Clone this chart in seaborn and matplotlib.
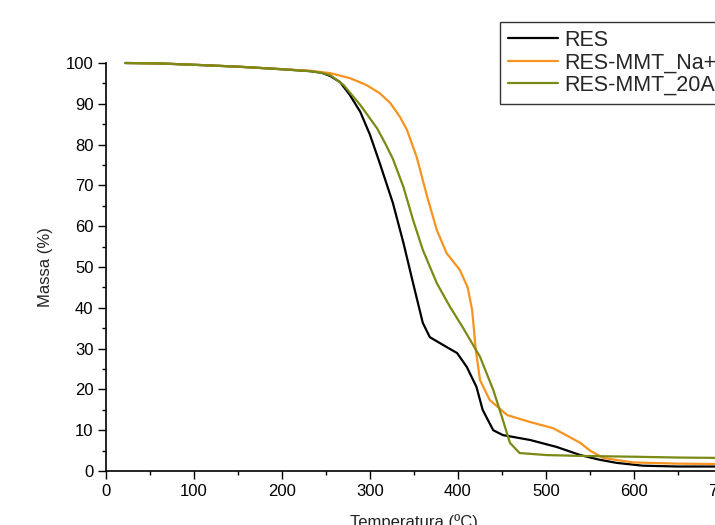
import numpy as np
import pandas as pd
import matplotlib
matplotlib.use('Agg')
import matplotlib.pyplot as plt
from matplotlib.ticker import MultipleLocator
import seaborn as sns

# TGA curves
res_t = [22, 60, 107, 150, 198, 232, 245, 255, 266, 277, 289, 300, 311, 326, 338, 349,
         360, 368, 383, 399, 410, 421, 428, 440, 451, 482, 512, 539, 560, 580, 610, 650, 700]
res_m = [100, 99.9, 99.5, 99.1, 98.5, 98.0, 97.6, 96.8, 95.3, 92.2, 88, 82.4, 75.5, 65.7, 55.9, 46,
         36.3, 32.8, 30.9, 28.9, 25.5, 20.6, 15, 10, 8.8, 7.6, 5.9, 3.9, 2.8, 2.0, 1.3, 1.1, 1.1]

na_t = [22, 60, 107, 150, 198, 232, 255, 277, 296, 311, 323, 334, 342, 353, 365, 376,
        387, 402, 411, 416, 418, 420, 425, 436, 456, 482, 508, 527, 539, 550, 565, 599, 650, 700]
na_m = [100, 99.9, 99.5, 99.1, 98.5, 98.1, 97.5, 96.3, 94.6, 92.6, 90.2, 86.8, 83.6, 77, 67.2, 59,
        53.4, 49.3, 45, 39.5, 35, 30, 22.3, 17.4, 13.7, 12, 10.5, 8.3, 6.9, 5.0, 3.2, 2.1, 1.8, 1.7]

a20_t = [22, 60, 107, 150, 198, 232, 245, 255, 270, 289, 308, 318, 326, 338, 349, 360,
         376, 391, 406, 425, 440, 450, 459, 470, 501, 539, 600, 650, 700]
a20_m = [100, 99.9, 99.5, 99.1, 98.5, 98.0, 97.6, 97, 94.6, 89.7, 84, 80, 76.5, 69.6, 61.5, 54.2,
         46, 40.2, 35, 28, 19.9, 13.2, 6.9, 4.4, 3.9, 3.7, 3.5, 3.3, 3.2]

labels = ['RES', 'RES-MMT_Na+', 'RES-MMT_20A']
colors = ['#000000', '#f7931e', '#7a8a14']

df = pd.concat([
    pd.DataFrame({'T': res_t, 'M': res_m, 'amostra': labels[0]}),
    pd.DataFrame({'T': na_t, 'M': na_m, 'amostra': labels[1]}),
    pd.DataFrame({'T': a20_t, 'M': a20_m, 'amostra': labels[2]}),
], ignore_index=True)

sns.set_theme(style='ticks')
plt.rcParams['font.family'] = ['Liberation Sans', 'DejaVu Sans']

fig = plt.figure(figsize=(7.15, 5.25), dpi=100)
ax = fig.add_axes([106 / 715, 1 - 471 / 525, 616 / 715, 408 / 525])

sns.lineplot(data=df, x='T', y='M', hue='amostra', palette=colors,
             hue_order=labels, sort=False, estimator=None, linewidth=1.6, ax=ax)
for ln in ax.lines:
    ln.set_clip_on(False)
    ln.set_solid_joinstyle('round')

ax.set_xlim(0, 700)
ax.set_ylim(0, 100)
ax.xaxis.set_major_locator(MultipleLocator(100))
ax.xaxis.set_minor_locator(MultipleLocator(50))
ax.yaxis.set_major_locator(MultipleLocator(10))
ax.yaxis.set_minor_locator(MultipleLocator(5))
ax.tick_params(which='major', direction='out', length=6, width=1, labelsize=12,
               colors='black', pad=3)
ax.tick_params(which='minor', direction='out', length=3, width=1, colors='black')

for side in ['top', 'right']:
    ax.spines[side].set_visible(False)
for side in ['left', 'bottom']:
    ax.spines[side].set_linewidth(1.2)
    ax.spines[side].set_color('black')

ax.set_xlabel('Temperatura (ºC)', fontsize=12, labelpad=11, color='#222222')
ax.set_ylabel('Massa (%)', fontsize=12, labelpad=9, color='#222222')

handles, lbls = ax.get_legend_handles_labels()
leg = ax.legend(handles, lbls, loc='upper left',
                bbox_to_anchor=(500 / 715, 1 - 22 / 525),
                bbox_transform=fig.transFigure, fontsize=15.5, frameon=True,
                fancybox=False, framealpha=1, edgecolor='#333333',
                handlelength=2.35, handletextpad=0.3, labelspacing=0.08,
                borderpad=0.35, borderaxespad=0)
leg.get_frame().set_linewidth(1.0)
for h in leg.get_lines():
    h.set_linewidth(1.6)

fig.savefig('out.png', dpi=100)
